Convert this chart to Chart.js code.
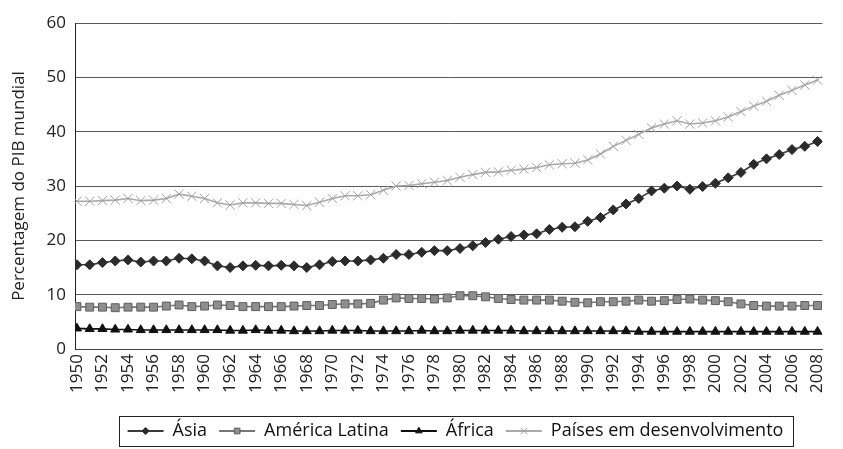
<!DOCTYPE html>
<html>
<head>
<meta charset="utf-8">
<script src="https://cdn.jsdelivr.net/npm/chart.js@4.4.0/dist/chart.umd.min.js"></script>
<style>
  html, body { margin: 0; padding: 0; background: #fff; }
  #wrap { width: 843px; height: 449px; }
</style>
</head>
<body>
<div id="wrap"><canvas id="chart"></canvas></div>
<script>
// Data
const years = [1950, 1951, 1952, 1953, 1954, 1955, 1956, 1957, 1958, 1959,
  1960, 1961, 1962, 1963, 1964, 1965, 1966, 1967, 1968, 1969,
  1970, 1971, 1972, 1973, 1974, 1975, 1976, 1977, 1978, 1979,
  1980, 1981, 1982, 1983, 1984, 1985, 1986, 1987, 1988, 1989,
  1990, 1991, 1992, 1993, 1994, 1995, 1996, 1997, 1998, 1999,
  2000, 2001, 2002, 2003, 2004, 2005, 2006, 2007, 2008];

const asia = [15.5, 15.5, 15.9, 16.2, 16.4, 16.0, 16.2, 16.2, 16.7, 16.6, 16.2,
  15.3, 15.0, 15.3, 15.4, 15.3, 15.4, 15.3, 15.0, 15.5, 16.1,
  16.2, 16.2, 16.4, 16.7, 17.4, 17.4, 17.8, 18.1, 18.1, 18.5,
  19.0, 19.6, 20.2, 20.7, 21.0, 21.2, 22.0, 22.4, 22.5, 23.5,
  24.2, 25.6, 26.7, 27.7, 29.1, 29.6, 30.0, 29.4, 29.9, 30.5,
  31.5, 32.5, 34.0, 35.0, 35.8, 36.7, 37.3, 38.2];

const latinAmerica = [7.8, 7.7, 7.7, 7.6, 7.7, 7.7, 7.7, 7.9, 8.1, 7.8, 7.9,
  8.1, 8.0, 7.8, 7.8, 7.8, 7.8, 7.9, 8.0, 8.0, 8.2,
  8.3, 8.3, 8.4, 9.0, 9.4, 9.3, 9.3, 9.2, 9.4, 9.8,
  9.8, 9.6, 9.3, 9.1, 9.0, 9.0, 9.0, 8.8, 8.6, 8.5,
  8.7, 8.7, 8.8, 9.0, 8.8, 8.9, 9.1, 9.2, 9.0, 8.9,
  8.7, 8.3, 8.0, 7.9, 7.9, 7.9, 8.0, 8.0];

const africa = [3.8, 3.7, 3.7, 3.6, 3.6, 3.5, 3.5, 3.5, 3.5, 3.5, 3.5,
  3.5, 3.4, 3.4, 3.5, 3.4, 3.4, 3.3, 3.3, 3.3, 3.4,
  3.4, 3.4, 3.3, 3.3, 3.3, 3.3, 3.4, 3.3, 3.3, 3.4,
  3.4, 3.4, 3.4, 3.4, 3.3, 3.3, 3.3, 3.3, 3.3, 3.3,
  3.3, 3.3, 3.3, 3.2, 3.2, 3.2, 3.2, 3.2, 3.2, 3.2,
  3.2, 3.2, 3.2, 3.2, 3.2, 3.2, 3.2, 3.2];

const developing = [27.2, 27.2, 27.3, 27.4, 27.7, 27.3, 27.4, 27.7, 28.5, 28.1, 27.7,
  26.9, 26.5, 26.9, 26.9, 26.8, 26.8, 26.6, 26.4, 27.0, 27.7,
  28.2, 28.2, 28.4, 29.2, 30.0, 30.1, 30.4, 30.7, 31.0, 31.6,
  32.1, 32.5, 32.6, 32.9, 33.1, 33.4, 33.9, 34.1, 34.2, 34.8,
  35.9, 37.3, 38.4, 39.5, 40.7, 41.4, 42.0, 41.4, 41.6, 42.0,
  42.7, 43.7, 44.7, 45.6, 46.7, 47.6, 48.6, 49.5];

const seriesNames = ['Ásia', 'América Latina', 'África', 'Países em desenvolvimento'];
const yTicks = [0, 10, 20, 30, 40, 50, 60];
const yTitle = 'Percentagem do PIB mundial';

const FONT = "'Open Sans', sans-serif";

const toPoints = (vals) => years.map((yr, i) => ({ x: yr, y: vals[i] }));

const makeSet = (label, vals, color, pointColor, pointBorder, style, radius) => ({
  label: label,
  data: toPoints(vals),
  borderColor: color,
  backgroundColor: color,
  borderWidth: 1.6,
  pointStyle: style,
  pointRadius: radius,
  pointBackgroundColor: pointColor,
  pointBorderColor: pointBorder,
  pointBorderWidth: 1,
  tension: 0,
});

// Legend: nudge it under the plot, frame it, and put markers on the line samples
const legendMarks = {
  id: 'legendMarks',
  afterLayout(chart) {
    const lg = chart.legend;
    if (!lg) return;
    lg.left += 34;
    lg.right += 34;
    lg.top += 4;
    lg.bottom += 4;
  },
  afterDraw(chart) {
    const lg = chart.legend;
    if (!lg || !lg.legendHitBoxes.length) return;
    const ctx = chart.ctx;
    const boxes = lg.legendHitBoxes;
    const boxW = lg.options.labels.boxWidth;
    ctx.save();
    boxes.forEach((b, i) => {
      const ds = chart.data.datasets[i];
      ctx.fillStyle = ds.pointBackgroundColor;
      ctx.strokeStyle = ds.pointBorderColor;
      ctx.lineWidth = 1;
      Chart.helpers.drawPoint(ctx, {
        pointStyle: ds.pointStyle,
        radius: ds.pointRadius * 0.72,
        borderWidth: 1,
        rotation: 0,
      }, b.left + boxW / 2, b.top + b.height / 2);
    });
    const left = Math.min(...boxes.map(b => b.left)) - 9;
    const right = Math.max(...boxes.map(b => b.left + b.width)) + 9;
    const top = Math.min(...boxes.map(b => b.top)) - 6;
    const bottom = Math.max(...boxes.map(b => b.top + b.height)) + 6;
    ctx.strokeStyle = '#222';
    ctx.lineWidth = 1;
    ctx.strokeRect(Math.round(left) + 0.5, Math.round(top) + 0.5, Math.round(right - left), Math.round(bottom - top));
    ctx.restore();
  }
};

new Chart(document.getElementById('chart'), {
  type: 'line',
  data: {
    datasets: [
      makeSet(seriesNames[0], asia, '#3a3a3a', '#2b2b2b', '#2b2b2b', 'rectRot', 5),
      makeSet(seriesNames[1], latinAmerica, '#777777', '#8e8e8e', '#5e5e5e', 'rect', 5.6),
      makeSet(seriesNames[2], africa, '#111111', '#111111', '#111111', 'triangle', 5.2),
      makeSet(seriesNames[3], developing, '#a9a9a9', '#a9a9a9', '#a0a0a0', 'crossRot', 6.5),
    ],
  },
  options: {
    responsive: true,
    maintainAspectRatio: false,
    animation: false,
    layout: { padding: { top: 23, right: 0, bottom: 3, left: 0 } },
    plugins: {
      tooltip: { enabled: false },
      legend: {
        position: 'bottom',
        labels: {
          font: { family: FONT, size: 18 },
          color: '#111',
          boxWidth: 36,
          boxHeight: 2,
          padding: 12,
          generateLabels(chart) {
            const items = Chart.defaults.plugins.legend.labels.generateLabels(chart);
            items.forEach((it, i) => {
              it.fillStyle = chart.data.datasets[i].borderColor;
              it.lineWidth = 0;
            });
            return items;
          },
        },
      },
    },
    scales: {
      x: {
        type: 'linear',
        min: 1949.85,
        max: 2008.38,
        grid: { display: false, drawTicks: false },
        border: { display: true, color: '#444', width: 1 },
        ticks: {
          stepSize: 2,
          includeBounds: false,
          autoSkip: false,
          maxRotation: 90,
          minRotation: 90,
          padding: 5,
          color: '#222',
          font: { family: FONT, size: 17 },
          callback: (v) => String(v),
        },
        afterFit: (s) => { s.height = 57; },
      },
      y: {
        min: 0,
        max: 60,
        afterBuildTicks: (s) => { s.ticks = yTicks.map(v => ({ value: v })); },
        grid: { color: '#5a5a5a', lineWidth: 1, drawTicks: false },
        border: { display: true, color: '#222', width: 1 },
        ticks: {
          padding: 9,
          color: '#222',
          font: { family: FONT, size: 17 },
        },
        title: {
          display: true,
          text: yTitle,
          color: '#222',
          font: { family: FONT, size: 17 },
          padding: { top: 9, bottom: 0 },
        },
        afterFit: (s) => { s.width = 75; },
      },
    },
  },
  plugins: [legendMarks],
});
</script>
</body>
</html>
